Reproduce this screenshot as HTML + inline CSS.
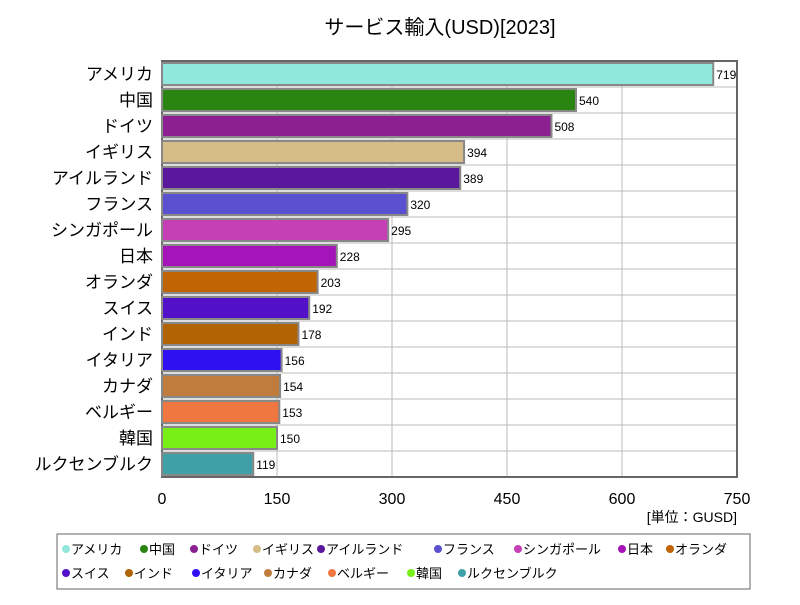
<!DOCTYPE html>
<html><head><meta charset="utf-8">
<style>
body{margin:0;background:#fff;font-family:"Liberation Sans","Noto Sans CJK JP",sans-serif;}
svg text{font-family:"Liberation Sans","Noto Sans CJK JP",sans-serif;}
</style></head>
<body>
<svg id="c" width="800" height="600" xmlns="http://www.w3.org/2000/svg">
<rect width="800" height="600" fill="#fff"/>
<text x="440" y="34" font-size="20" text-anchor="middle" fill="#000">サービス輸入(USD)[2023]</text>
<g id="grid"></g><g id="bars"></g><g id="labels"></g>
<text x="737" y="522" font-size="14" text-anchor="end" fill="#000">[単位：GUSD]</text>
<rect x="57" y="534" width="693" height="55" fill="#fff" stroke="#666"/>
<g id="legend"></g>
</svg>
<script>
const categories=["アメリカ","中国","ドイツ","イギリス","アイルランド","フランス","シンガポール","日本","オランダ","スイス","インド","イタリア","カナダ","ベルギー","韓国","ルクセンブルク"];
const values=[719,540,508,394,389,320,295,228,203,192,178,156,154,153,150,119];
const colors=["#90e8dc","#2a8410","#8c2090","#d6bc86","#5a189c","#5a50d0","#c440b4","#a414b8","#c06404","#5210c8","#b06404","#2e10f0","#c07c3c","#f07840","#78f018","#40a0a8"];
const ticks=[0,150,300,450,600,750];
const X0=162,X1=737,Y0=61,Y1=477,MAX=750;
const NS="http://www.w3.org/2000/svg";
const xs=v=>X0+(X1-X0)*v/MAX;
const rowH=(Y1-Y0)/categories.length;
function mk(t,a,p){const e=document.createElementNS(NS,t);for(const k in a)e.setAttribute(k,a[k]);p.appendChild(e);return e;}
const grid=document.getElementById('grid'),bars=document.getElementById('bars'),labels=document.getElementById('labels'),leg=document.getElementById('legend');
ticks.forEach(t=>{
 const l=mk('line',{x1:xs(t),x2:xs(t),y1:Y0,y2:Y1,stroke:'#bbb'},grid);
 
 
 const tx=mk('text',{x:xs(t),y:504,'font-size':16,'text-anchor':'middle',fill:'#000'},labels);
 tx.textContent=t;
 
 
});
for(let i=1;i<categories.length;i++){
 const l=mk('line',{x1:X0,x2:X1,y1:Y0+i*rowH,y2:Y0+i*rowH,stroke:'#bbb'},grid);
 
 
}
const fr=mk('rect',{x:X0,y:Y0,width:X1-X0,height:Y1-Y0,fill:'none',stroke:'#666','stroke-width':2},grid);


categories.forEach((c,i)=>{
 const y=Y0+i*rowH;
 const b=mk('rect',{x:X0,y:y+2,width:xs(values[i])-X0,height:rowH-4,fill:colors[i],stroke:'#888','stroke-width':2},bars);
 
 
 const v=mk('text',{x:xs(values[i])+3,y:y+rowH/2+5,'font-size':12,fill:'#000'},labels);
 v.textContent=values[i];
 
 
 const cl=mk('text',{x:153,y:y+rowH/2+6,'font-size':17,'text-anchor':'end',fill:'#000'},labels);
 cl.textContent=c;
 
 
});
const lx=[66,144,194,257,321,438,518,622,670,66,129,196,268,332,411,462];
categories.forEach((c,i)=>{
 const y=i<9?549:573;
 const g=mk('g',{},leg);
 
 
 mk('circle',{cx:lx[i],cy:y,r:4,fill:colors[i]},g);
 const t=mk('text',{x:lx[i]+5,y:y+5,'font-size':13,fill:'#000'},g);
 t.textContent=c;
});
</script>
</body></html>
